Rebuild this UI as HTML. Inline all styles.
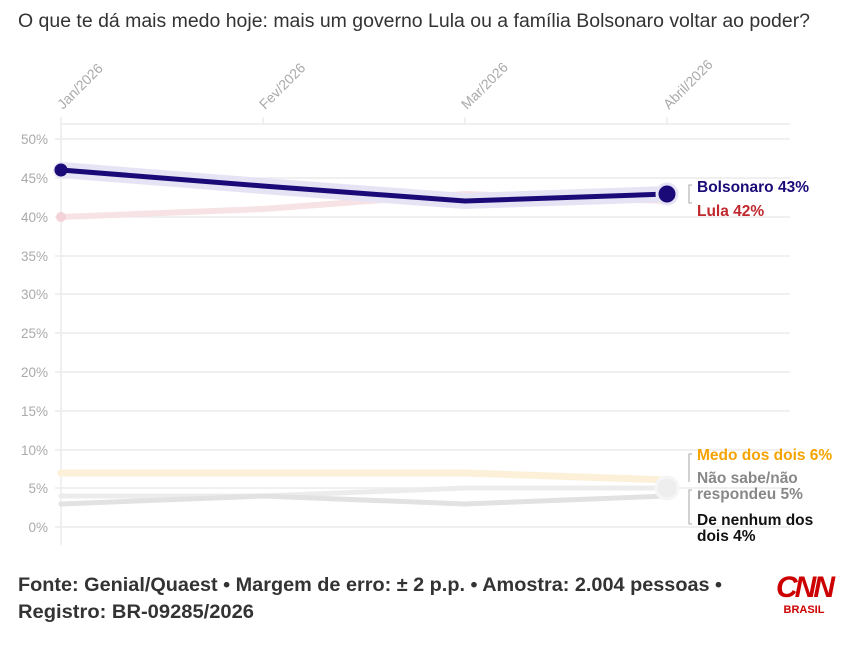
<!DOCTYPE html>
<html><head><meta charset="utf-8"><style>
body{margin:0;background:#fff;font-family:"Liberation Sans",sans-serif}
</style></head><body>
<svg width="849" height="651" xmlns="http://www.w3.org/2000/svg" font-family="Liberation Sans, sans-serif">
<text x="18" y="27" font-size="19" fill="#333" textLength="792" lengthAdjust="spacingAndGlyphs">O que te dá mais medo hoje: mais um governo Lula ou a família Bolsonaro voltar ao poder?</text>
<g stroke="#ececec" stroke-width="1.5">
<line x1="61" y1="124" x2="790" y2="124"/>
<line x1="55" y1="139" x2="790" y2="139"/><line x1="55" y1="178" x2="790" y2="178"/>
<line x1="55" y1="217" x2="790" y2="217"/><line x1="55" y1="256" x2="790" y2="256"/>
<line x1="55" y1="294" x2="790" y2="294"/><line x1="55" y1="333" x2="790" y2="333"/>
<line x1="55" y1="372" x2="790" y2="372"/><line x1="55" y1="411" x2="790" y2="411"/>
<line x1="55" y1="450" x2="790" y2="450"/><line x1="55" y1="488" x2="790" y2="488"/>
<line x1="55" y1="527" x2="790" y2="527"/>
<line x1="61" y1="117" x2="61" y2="545"/>
<line x1="263" y1="117" x2="263" y2="124"/><line x1="465" y1="117" x2="465" y2="124"/><line x1="667" y1="117" x2="667" y2="124"/>
</g>
<g font-size="13.5" fill="#aaa" text-anchor="end">
<text x="48" y="144">50%</text><text x="48" y="183">45%</text><text x="48" y="222">40%</text>
<text x="48" y="261">35%</text><text x="48" y="299">30%</text><text x="48" y="338">25%</text>
<text x="48" y="377">20%</text><text x="48" y="416">15%</text><text x="48" y="455">10%</text>
<text x="48" y="493">5%</text><text x="48" y="532">0%</text>
</g>
<g font-size="14" fill="#aaa">
<text transform="translate(63,110) rotate(-45)">Jan/2026</text>
<text transform="translate(265,110) rotate(-45)">Fev/2026</text>
<text transform="translate(467,110) rotate(-45)">Mar/2026</text>
<text transform="translate(669,110) rotate(-45)">Abril/2026</text>
</g>
<g fill="none" stroke-linejoin="round" stroke-linecap="round">
<polyline points="61,473 263,473 465,473 667,480" stroke="#fdf0d8" stroke-width="7"/>
<polyline points="61,496 263,496 465,488 667,488" stroke="#ececec" stroke-width="5"/>
<polyline points="61,504 263,496 465,504 667,496" stroke="#e2e2e2" stroke-width="5"/>
<polyline points="61,217 263,209 465,194 667,201" stroke="#f7e2e5" stroke-width="6"/>
<polyline points="61,170 263,186 465,201 667,194" stroke="#e6e3f5" stroke-width="16"/>
<polyline points="61,170 263,186 465,201 667,194" stroke="#1a0a78" stroke-width="5"/>
</g>
<circle cx="61" cy="217" r="5" fill="#f3d3d7"/>
<circle cx="61" cy="170" r="6.5" fill="#1a0a78"/>
<circle cx="667" cy="194" r="10" fill="#1a0a78" stroke="#e6e3f5" stroke-width="3"/>
<circle cx="667" cy="488" r="11" fill="#eee" stroke="#f5f5f5" stroke-width="3"/>
<g stroke="#bbb" fill="none" stroke-width="1.3">
<path d="M692,185 h-3 v18 h3"/>
<path d="M692,454 h-3 v28 M692,490 h-3 v34 h3"/>
</g>
<g font-size="15.5" font-weight="bold">
<text x="697" y="192" fill="#1a0a78">Bolsonaro 43%</text>
<text x="697" y="216" fill="#c0282e">Lula 42%</text>
<text x="697" y="460" fill="#f5a300">Medo dos dois 6%</text>
<text x="697" y="483" fill="#888">Não sabe/não</text>
<text x="697" y="499" fill="#888">respondeu 5%</text>
<text x="697" y="525" fill="#111">De nenhum dos</text>
<text x="697" y="541" fill="#111">dois 4%</text>
</g>
<g font-size="19" font-weight="bold" fill="#333">
<text x="18" y="591" textLength="704" lengthAdjust="spacingAndGlyphs">Fonte: Genial/Quaest • Margem de erro: ± 2 p.p. • Amostra: 2.004 pessoas •</text>
<text x="18" y="618" textLength="236" lengthAdjust="spacingAndGlyphs">Registro: BR-09285/2026</text>
</g>
<text x="804" y="597" font-size="30" font-weight="bold" fill="#cc0000" text-anchor="middle" letter-spacing="-3" font-style="italic">CNN</text>
<text x="804" y="613" font-size="11" font-weight="bold" fill="#cc0000" text-anchor="middle">BRASIL</text>
</svg>
</body></html>
